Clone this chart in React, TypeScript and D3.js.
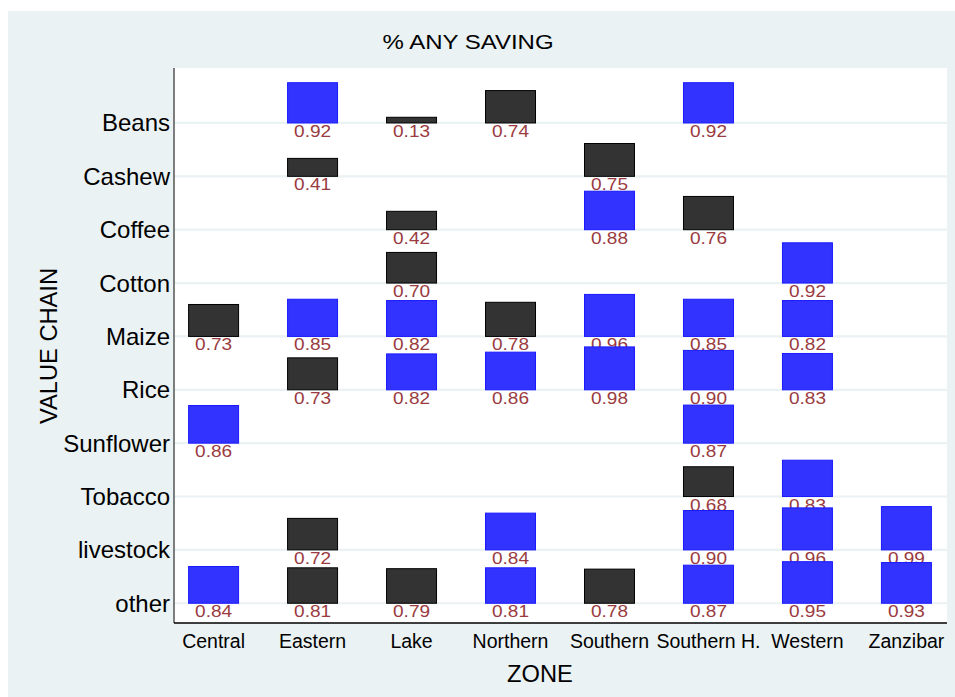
import * as d3 from "d3";

const zones = ["Central", "Eastern", "Lake", "Northern", "Southern", "Southern H.", "Western", "Zanzibar"];
const chains = ["Beans", "Cashew", "Coffee", "Cotton", "Maize", "Rice", "Sunflower", "Tobacco", "livestock", "other"];

// share with any saving, by zone (null = no observation)
const beans = [null, 0.92, 0.13, 0.74, null, 0.92, null, null];
const cashew = [null, 0.41, null, null, 0.75, null, null, null];
const coffee = [null, null, 0.42, null, 0.88, 0.76, null, null];
const cotton = [null, null, 0.70, null, null, null, 0.92, null];
const maize = [0.73, 0.85, 0.82, 0.78, 0.96, 0.85, 0.82, null];
const rice = [null, 0.73, 0.82, 0.86, 0.98, 0.90, 0.83, null];
const sunflower = [0.86, null, null, null, null, 0.87, null, null];
const tobacco = [null, null, null, null, null, 0.68, 0.83, null];
const livestock = [null, 0.72, null, 0.84, null, 0.90, 0.96, 0.99];
const other = [0.84, 0.81, 0.79, 0.81, 0.78, 0.87, 0.95, 0.93];

// 1 = blue bar, 0 = dark bar
const beansHi = [0, 1, 0, 0, 0, 1, 0, 0];
const cashewHi = [0, 0, 0, 0, 0, 0, 0, 0];
const coffeeHi = [0, 0, 0, 0, 1, 0, 0, 0];
const cottonHi = [0, 0, 0, 0, 0, 0, 1, 0];
const maizeHi = [0, 1, 1, 0, 1, 1, 1, 0];
const riceHi = [0, 0, 1, 1, 1, 1, 1, 0];
const sunflowerHi = [1, 0, 0, 0, 0, 1, 0, 0];
const tobaccoHi = [0, 0, 0, 0, 0, 0, 1, 0];
const livestockHi = [0, 0, 0, 1, 0, 1, 1, 1];
const otherHi = [1, 0, 0, 1, 0, 1, 1, 1];

const rowValues = [beans, cashew, coffee, cotton, maize, rice, sunflower, tobacco, livestock, other];
const rowHi = [beansHi, cashewHi, coffeeHi, cottonHi, maizeHi, riceHi, sunflowerHi, tobaccoHi, livestockHi, otherHi];

const W = 955;
const H = 697;
const plot = { left: 174, right: 947, top: 68, bottom: 623 };

const font = "'Liberation Sans', Arial, Helvetica, sans-serif";
const bg = "#eaf2f3";
const labelColor = "#9a3b3f";

export default function App() {
  const x = d3.scaleLinear().domain([0.6, 8.41]).range([plot.left, plot.right]);
  const y = d3.scaleLinear().domain([0.63, 11.03]).range([plot.bottom, plot.top]);
  const colStep = x(2) - x(1);
  const rowStep = y(1) - y(2);
  const barW = colStep * 0.505;
  const barH = d3.scaleLinear().domain([0, 1]).range([0, rowStep * 0.82]);

  // y position: Beans at top (10) .. other at bottom (1)
  const rowY = (i: number) => y(chains.length - i);

  return (
    <svg width={W} height={H} style={{ position: "absolute", left: 0, top: 0, display: "block" }} fontFamily={font}>
      <rect x={0} y={0} width={W} height={H} fill="#ffffff" />
      <rect x={8} y={11} width={W - 8} height={H - 11} fill={bg} />
      <rect x={plot.left} y={plot.top} width={plot.right - plot.left} height={plot.bottom - plot.top} fill="#ffffff" />

      {/* gridlines */}
      {chains.map((c, i) => (
        <line key={c} x1={plot.left} x2={plot.right} y1={rowY(i)} y2={rowY(i)} stroke={bg} strokeWidth={2.2} />
      ))}

      {/* bars and labels, row by row from the top */}
      {rowValues.map((vals, i) => (
        <g key={chains[i]}>
          {vals.map((v, j) =>
            v == null ? null : (
              <g key={j}>
                <rect
                  x={x(j + 1) - barW / 2}
                  y={rowY(i) - barH(v)}
                  width={barW}
                  height={barH(v)}
                  fill={rowHi[i][j] ? "#3333ff" : "#333333"}
                  stroke={rowHi[i][j] ? "#1a1aff" : "#000000"}
                  strokeWidth={1}
                />
                <text
                  transform={`translate(${x(j + 1)},${rowY(i) + 14}) scale(1.12,1)`}
                  textAnchor="middle"
                  fontSize={17}
                  fill={labelColor}
                >
                  {v.toFixed(2)}
                </text>
              </g>
            )
          )}
        </g>
      ))}

      {/* axes */}
      <line x1={plot.left} x2={plot.left} y1={plot.top} y2={plot.bottom} stroke="#555555" strokeWidth={1.5} />
      <line x1={plot.left} x2={plot.right} y1={plot.bottom} y2={plot.bottom} stroke="#000000" strokeWidth={1.5} />

      {chains.map((c, i) => (
        <text key={c} x={plot.left - 4} y={rowY(i) + 8.5} textAnchor="end" fontSize={24} fill="#000">
          {c}
        </text>
      ))}

      {zones.map((z, j) => (
        <text key={z} x={x(j + 1)} y={647.5} textAnchor="middle" fontSize={19.5} fill="#000">
          {z}
        </text>
      ))}

      <text transform={`translate(468,48.5) scale(1.2,1)`} textAnchor="middle" fontSize={20} fill="#000">
        % ANY SAVING
      </text>
      <text transform={`translate(540,681.5) scale(1.03,1)`} textAnchor="middle" fontSize={23} fill="#000">
        ZONE
      </text>
      <text transform={`translate(57,346) rotate(-90) scale(1.03,1)`} textAnchor="middle" fontSize={23} fill="#000">
        VALUE CHAIN
      </text>
    </svg>
  );
}
